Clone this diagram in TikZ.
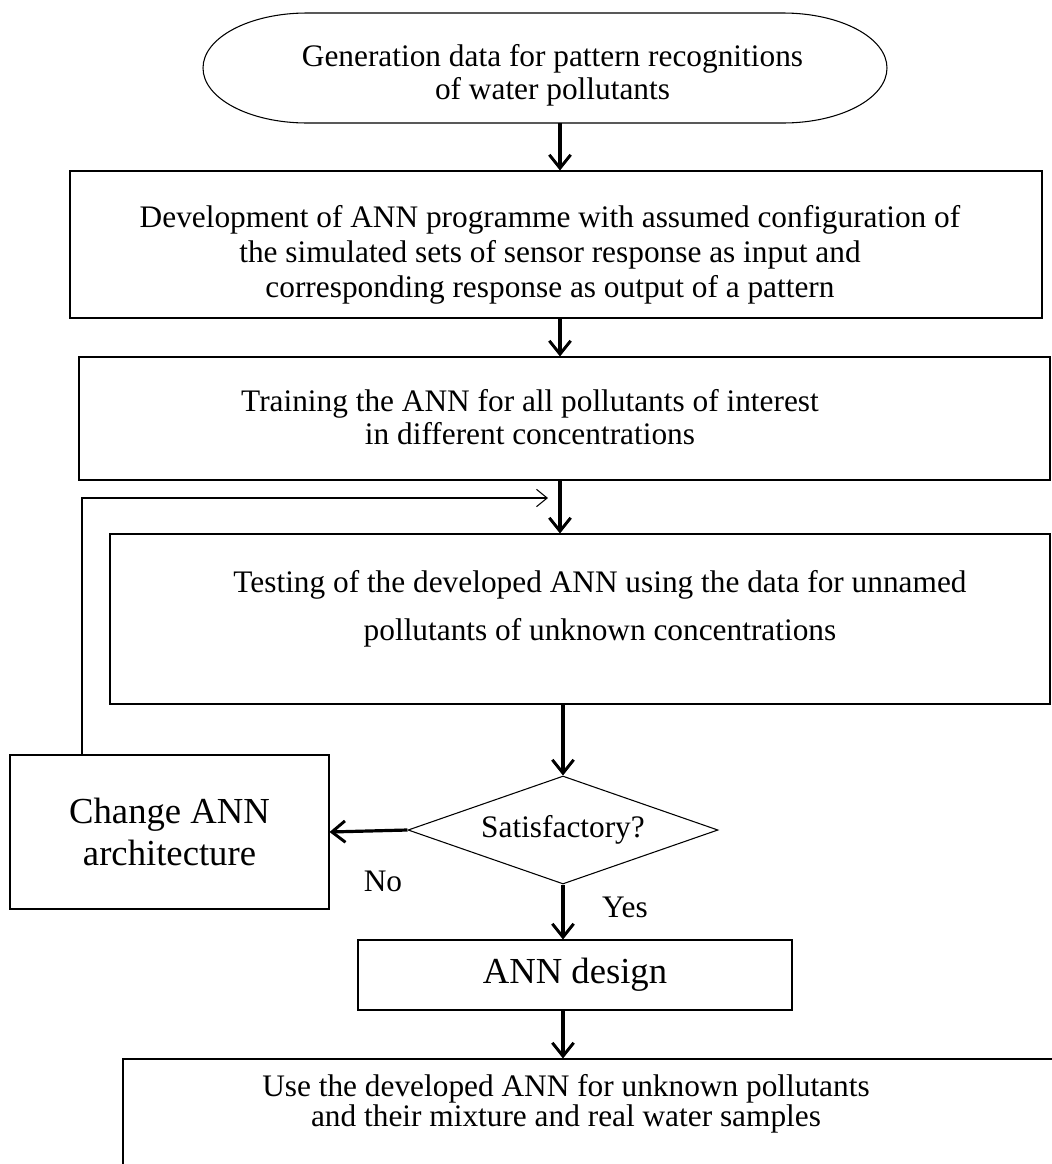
\documentclass[tikz,border=0pt]{standalone}
\usepackage{fontspec}
\setmainfont{Liberation Serif}
\usetikzlibrary{arrows.meta,shapes.geometric}

\begin{document}
\begin{tikzpicture}[x=0.75pt,y=-0.75pt,
  txt/.style={align=center,inner sep=0pt,font=\fontsize{23.5}{24.75}\selectfont},
  big/.style={align=center,inner sep=0pt,font=\fontsize{27.5}{31.5}\selectfont},
  frame/.style={rectangle,draw,line width=0.8pt,inner sep=0pt},
  decn/.style={diamond,draw,line width=0.8pt,inner sep=0pt,aspect=2.87,minimum width=232.5pt,minimum height=81pt,font=\fontsize{23.5}{24.75}\selectfont},
  arr/.style={-{Straight Barb[length=10pt,width=16pt,line width=2.2pt]},line width=2.4pt},
  fbarr/.style={-{Straight Barb[length=8pt,width=13pt]},line width=0.8pt}]
\clip (0,0) rectangle (1052,1164);
% start
\node[txt] (gen) at (552.5,75) {Generation data for pattern recognitions\\of water pollutants};
\draw[line width=0.8pt] ([shift={(230.5,-62)}]gen.center) arc[start angle=90,end angle=-90,x radius=78pt,y radius=41.25pt]
  -- ([shift={(-245.5,48)}]gen.center) arc[start angle=270,end angle=90,x radius=78pt,y radius=41.25pt] -- cycle;
\coordinate (gb) at ([shift={(7.5,48)}]gen.center);
% process boxes
\node[frame,minimum width=729pt,minimum height=110.25pt] (dev) at (556,244.5) {};
\node[txt,font=\fontsize{23.5}{26.25}\selectfont] (devtxt) at (550,255) {Development of ANN programme with assumed configuration of\\the simulated sets of sensor response as input and\\corresponding response as output of a pattern};
\node[frame,minimum width=728.25pt,minimum height=92.25pt] (train) at (564.5,418.5) {};
\node[txt] (traintxt) at (530,417) {Training the ANN for all pollutants of interest\\in different concentrations};
\node[frame,minimum width=705pt,minimum height=127.5pt] (test) at (580,619) {};
\node[txt,font=\fontsize{23.5}{36}\selectfont] (testtxt) at (600,609) {Testing of the developed ANN using the data for unnamed\\pollutants of unknown concentrations};
% decision
\node[decn] (dec) at (563,830) {Satisfactory?};
\node[frame,big,minimum width=239.25pt,minimum height=115.5pt] (chg) at (169.5,832) {Change ANN\\architecture};
\node[frame,big,minimum width=325.5pt,minimum height=52.5pt] (design) at (575,975) {ANN design};
\node[txt] (no) at (383,881) {No};
\node[txt] (yes) at (625,907) {Yes};
% last box (cut by the page)
\node[frame,minimum width=732.75pt,minimum height=90.75pt] (use) at (611.5,1119.5) {};
\node[txt,font=\fontsize{23.5}{21}\selectfont] (usetxt) at (566,1104) {Use the developed ANN for unknown pollutants\\and their mixture and real water samples};
% arrows
\draw[arr] (gb) -- (gb |- dev.north);
\draw[arr] (dev.south -| gb) -- (train.north -| gb);
\draw[arr] (train.south -| gb) -- (test.north -| gb);
\draw[arr] (test.south -| dec.north) -- (dec.north);
\draw[arr] (dec.west) -- (chg.east);
\draw[arr] (dec.south) -- (dec.south |- design.north);
\draw[arr] (design.south -| dec.south) -- (dec.south |- use.north);
% back loop
\coordinate (fbc) at (82,498);
\coordinate (fbend) at (548,498);
\draw[fbarr] (chg.north -| fbc) |- (fbend);
\end{tikzpicture}
\end{document}
